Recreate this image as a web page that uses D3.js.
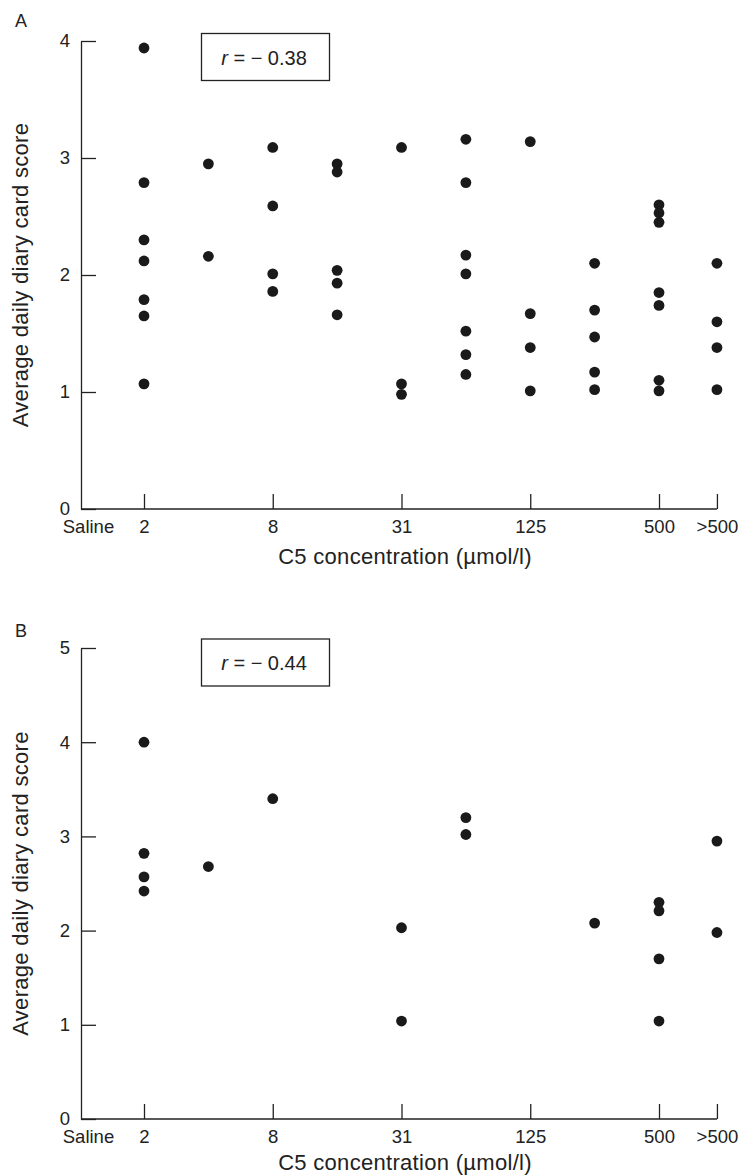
<!DOCTYPE html>
<html>
<head>
<meta charset="utf-8">
<script src="https://cdn.jsdelivr.net/npm/d3@7"></script>
<style>
  body { margin: 0; background: #fff; }
  svg { display: block; font-family: "Liberation Sans", Arial, Helvetica, sans-serif; }
  .tick text { fill: #222; }
</style>
</head>
<body>
<div id="chart"></div>
<script>
const width = 742;
const height = 1176;

const categories = ["2", "4", "8", "16", "31", "62", "125", "250", "500", ">500"];
const tickLabels = ["Saline", "2", "8", "31", "125", "500", ">500"];

// scores per category, panel A
const scoresA = [
  [3.94, 2.79, 2.30, 2.12, 1.79, 1.65, 1.07],
  [2.95, 2.16],
  [3.09, 2.59, 2.01, 1.86],
  [2.95, 2.88, 2.04, 1.93, 1.66],
  [3.09, 1.07, 0.98],
  [3.16, 2.79, 2.17, 2.01, 1.52, 1.32, 1.15],
  [3.14, 1.67, 1.38, 1.01],
  [2.10, 1.70, 1.47, 1.17, 1.02],
  [2.60, 2.53, 2.45, 1.85, 1.74, 1.10, 1.01],
  [2.10, 1.60, 1.38, 1.02]
];

// scores per category, panel B
const scoresB = [
  [4.00, 2.82, 2.57, 2.42],
  [2.68],
  [3.40],
  [],
  [2.03, 1.04],
  [3.20, 3.02],
  [],
  [2.08],
  [2.30, 2.21, 1.70, 1.04],
  [2.95, 1.98]
];

const rA = "0.38";
const rB = "0.44";

const svg = d3.select('#chart')
  .append('svg')
  .attr('width', width)
  .attr('height', height);

// slot of each category on the dilution axis (4-fold steps)
const slot = d3.scaleOrdinal()
  .domain(["Saline"].concat(categories))
  .range([-0.87, 0, 1, 2, 3, 4, 5, 6, 7, 8, 8.9]);

const x = d3.scaleLinear()
  .domain([0, 8])
  .range([144, 659]);

const axisLeftX = 81;
const ink = "#222";

function drawPanel(opts){
  const g = svg.append('g');
  const y = d3.scaleLinear()
    .domain([0, opts.max])
    .range([opts.bottom, opts.top]);

  // y axis
  g.append('g')
    .attr('transform', `translate(${axisLeftX},0)`)
    .call(d3.axisLeft(y).ticks(opts.max).tickSize(-15).tickSizeOuter(0).tickPadding(11).tickFormat(d3.format('d')))
    .call(a => a.select('.domain').attr('stroke', ink).attr('stroke-width', 1.3))
    .call(a => a.selectAll('.tick line').attr('stroke', ink).attr('stroke-width', 1.3))
    .call(a => a.selectAll('.tick text').attr('font-size', 18.5));

  // x axis
  const xa = g.append('g')
    .attr('transform', `translate(0,${opts.bottom})`)
    .call(d3.axisBottom(x).tickValues(tickLabels.map(slot)).tickFormat((d, i) => tickLabels[i]).tickSize(-15).tickPadding(11))
    .call(a => a.select('.domain').remove())
    .call(a => a.selectAll('.tick line').attr('stroke', ink).attr('stroke-width', 1.3))
    .call(a => a.selectAll('.tick text').attr('font-size', 18.5).attr('dy', '0.72em'));
  xa.selectAll('.tick').filter((d, i) => i === 0).select('line').remove();
  xa.append('line')
    .attr('x1', axisLeftX)
    .attr('x2', x(slot(">500")))
    .attr('stroke', ink)
    .attr('stroke-width', 1.3);

  // axis titles
  g.append('text')
    .attr('x', 405)
    .attr('y', opts.titleY)
    .attr('text-anchor', 'middle')
    .attr('font-size', 22)
    .attr('letter-spacing', 0.3)
    .attr('fill', ink)
    .text('C5 concentration (\u00b5mol/l)');

  g.append('text')
    .attr('transform', `translate(28,${(opts.top + opts.bottom) / 2}) rotate(-90)`)
    .attr('text-anchor', 'middle')
    .attr('font-size', 22)
    .attr('letter-spacing', 0.3)
    .attr('fill', ink)
    .text('Average daily diary card score');

  // panel letter
  g.append('text')
    .attr('x', 15)
    .attr('y', opts.letterY)
    .attr('font-size', 18)
    .attr('fill', ink)
    .text(opts.letter);

  // correlation box
  g.append('rect')
    .attr('x', 201.5)
    .attr('y', opts.boxY)
    .attr('width', 128)
    .attr('height', 47)
    .attr('fill', 'none')
    .attr('stroke', ink)
    .attr('stroke-width', 1.3);
  const t = g.append('text')
    .attr('x', 264)
    .attr('y', opts.boxY + 31)
    .attr('text-anchor', 'middle')
    .attr('font-size', 20)
    .attr('fill', ink);
  t.append('tspan').attr('font-style', 'italic').text('r');
  t.append('tspan').text(' = \u2212 ' + opts.r);

  // points
  const pts = [];
  opts.scores.forEach((vals, i) => vals.forEach(v => pts.push({c: categories[i], v: v})));
  g.append('g')
    .attr('fill', '#1a1a1a')
    .selectAll('circle')
    .data(pts)
    .enter()
    .append('circle')
      .attr('cx', d => x(slot(d.c)))
      .attr('cy', d => y(d.v))
      .attr('r', 5.4);
}

drawPanel({letter: 'A', letterY: 27, max: 4, top: 41, bottom: 509, titleY: 564, boxY: 33.5, r: rA, scores: scoresA});
drawPanel({letter: 'B', letterY: 637, max: 5, top: 648, bottom: 1119, titleY: 1170, boxY: 639, r: rB, scores: scoresB});
</script>
</body>
</html>
